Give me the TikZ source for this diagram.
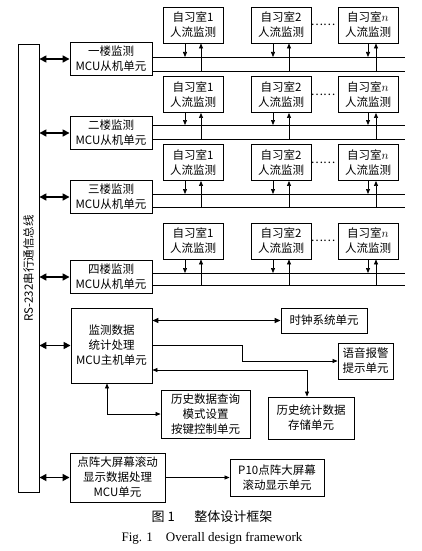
\documentclass[tikz,border=0pt]{standalone}
\usepackage{fontspec}
\setmainfont{Liberation Serif}
\newfontfamily\cjk{Noto Sans CJK SC}
\usetikzlibrary{arrows.meta}

\begin{document}
\begin{tikzpicture}[
  x=1pt,
  y=-1pt,
  every node/.style={font=\cjk\fontsize{11.5}{15}\selectfont, align=center, inner sep=0pt},
  box/.style={draw, line width=0.9pt},
  floorbox/.style={box, minimum width=82pt, minimum height=33pt},
  roombox/.style={box, minimum width=60pt, minimum height=36pt},
  busline/.style={line width=0.7pt},
  sig/.style={line width=0.7pt, -{Triangle[length=5pt, width=4pt]}},
  twoway/.style={line width=0.7pt,
                 {Triangle[length=5pt, width=4pt]}-{Triangle[length=5pt, width=4pt]}},
  heavy/.style={line width=1.3pt,
                {Triangle[length=6pt, width=5pt]}-{Triangle[length=6pt, width=5pt]}},
  link/.style={line width=1.6pt,
               {Triangle[length=7pt, width=7pt]}-{Triangle[length=7pt, width=7pt]}}
]
  % ---- page frame, 422 x 551 ------------------------------------------
  \useasboundingbox (0,0) rectangle (422,551);

  % ---- RS-232 bus --------------------------------------------------------
  \node[box, minimum width=21pt, minimum height=448pt] (bus) at (28.5,268.5) {};
  \node[rotate=90] (buslabel) at (bus.center) {RS-232串行通信总线};

  % ---- floor slaves ------------------------------------------------------
  \node[floorbox] (f1) at (111,59)  {一楼监测\\MCU从机单元};
  \node[floorbox] (f2) at (111,133) {二楼监测\\MCU从机单元};
  \node[floorbox] (f3) at (111,197) {三楼监测\\MCU从机单元};
  \node[floorbox] (f4) at (111,277) {四楼监测\\MCU从机单元};

  \draw[link] (bus.east |- f1) -- (f1.west);
  \draw[link] (bus.east |- f2) -- (f2.west);
  \draw[link] (bus.east |- f3) -- (f3.west);
  \draw[link] (bus.east |- f4) -- (f4.west);

  % ---- floor 1 rooms -----------------------------------------------------
  \node[roombox] (rm1a) at (193,25) {自习室1\\人流监测};
  \node[roombox] (rm1b) at (281,25) {自习室2\\人流监测};
  \node[roombox] (rm1n) at (368,25) {自习室$n$\\人流监测};
  \node (dots1) at (323,25) {……};
  \coordinate (u1) at (405,57);
  \coordinate (w1) at (405,71);
  \draw[busline] (f1.east |- u1) -- (u1);
  \draw[busline] (f1.east |- w1) -- (w1);
  \draw[sig] ([xshift=-8pt]rm1a.south) -- ([xshift=-8pt]rm1a.south |- u1);
  \draw[sig] ([xshift=8pt]rm1a.south |- w1) -- ([xshift=8pt]rm1a.south);
  \draw[sig] ([xshift=-8pt]rm1b.south) -- ([xshift=-8pt]rm1b.south |- u1);
  \draw[sig] ([xshift=8pt]rm1b.south |- w1) -- ([xshift=8pt]rm1b.south);
  \draw[sig] (rm1n.south) -- (rm1n.south |- u1);
  \draw[sig] ([xshift=8pt]rm1n.south |- w1) -- ([xshift=8pt]rm1n.south);

  % ---- floor 2 rooms -----------------------------------------------------
  \node[roombox] (rm2a) at (193,94.5) {自习室1\\人流监测};
  \node[roombox] (rm2b) at (281,94.5) {自习室2\\人流监测};
  \node[roombox] (rm2n) at (368,94.5) {自习室$n$\\人流监测};
  \node (dots2) at (323,94.5) {……};
  \coordinate (u2) at (405,125);
  \coordinate (w2) at (405,139);
  \draw[busline] (f2.east |- u2) -- (u2);
  \draw[busline] (f2.east |- w2) -- (w2);
  \draw[sig] ([xshift=-8pt]rm2a.south) -- ([xshift=-8pt]rm2a.south |- u2);
  \draw[sig] ([xshift=8pt]rm2a.south |- w2) -- ([xshift=8pt]rm2a.south);
  \draw[sig] ([xshift=-8pt]rm2b.south) -- ([xshift=-8pt]rm2b.south |- u2);
  \draw[sig] ([xshift=8pt]rm2b.south |- w2) -- ([xshift=8pt]rm2b.south);
  \draw[sig] (rm2n.south) -- (rm2n.south |- u2);
  \draw[sig] ([xshift=8pt]rm2n.south |- w2) -- ([xshift=8pt]rm2n.south);

  % ---- floor 3 rooms -----------------------------------------------------
  \node[roombox] (rm3a) at (193,162.5) {自习室1\\人流监测};
  \node[roombox] (rm3b) at (281,162.5) {自习室2\\人流监测};
  \node[roombox] (rm3n) at (368,162.5) {自习室$n$\\人流监测};
  \node (dots3) at (323,162.5) {……};
  \coordinate (u3) at (405,194);
  \coordinate (w3) at (405,207);
  \draw[busline] (f3.east |- u3) -- (u3);
  \draw[busline] (f3.east |- w3) -- (w3);
  \draw[sig] ([xshift=-8pt]rm3a.south) -- ([xshift=-8pt]rm3a.south |- u3);
  \draw[sig] ([xshift=8pt]rm3a.south |- w3) -- ([xshift=8pt]rm3a.south);
  \draw[sig] ([xshift=-8pt]rm3b.south) -- ([xshift=-8pt]rm3b.south |- u3);
  \draw[sig] ([xshift=8pt]rm3b.south |- w3) -- ([xshift=8pt]rm3b.south);
  \draw[sig] (rm3n.south) -- (rm3n.south |- u3);
  \draw[sig] ([xshift=8pt]rm3n.south |- w3) -- ([xshift=8pt]rm3n.south);

  % ---- floor 4 rooms -----------------------------------------------------
  \node[roombox] (rm4a) at (193,241) {自习室1\\人流监测};
  \node[roombox] (rm4b) at (281,241) {自习室2\\人流监测};
  \node[roombox] (rm4n) at (368,241) {自习室$n$\\人流监测};
  \node (dots4) at (323,241) {……};
  \coordinate (u4) at (405,273);
  \coordinate (w4) at (405,285);
  \draw[busline] (f4.east |- u4) -- (u4);
  \draw[busline] (f4.east |- w4) -- (w4);
  \draw[sig] ([xshift=-8pt]rm4a.south) -- ([xshift=-8pt]rm4a.south |- u4);
  \draw[sig] ([xshift=8pt]rm4a.south |- w4) -- ([xshift=8pt]rm4a.south);
  \draw[sig] ([xshift=-8pt]rm4b.south) -- ([xshift=-8pt]rm4b.south |- u4);
  \draw[sig] ([xshift=8pt]rm4b.south |- w4) -- ([xshift=8pt]rm4b.south);
  \draw[sig] (rm4n.south) -- (rm4n.south |- u4);
  \draw[sig] ([xshift=8pt]rm4n.south |- w4) -- ([xshift=8pt]rm4n.south);

  % ---- host unit and its peripherals -------------------------------------
  \node[box, minimum width=81pt, minimum height=75pt] (host) at (111.5,345.5)
    {监测数据\\统计处理\\MCU主机单元};
  \node[box, minimum width=86pt, minimum height=25pt] (clock) at (324,320.5)
    {时钟系统单元};
  \node[box, minimum width=55pt, minimum height=36pt] (voice) at (365.5,361)
    {语音报警\\提示单元};
  \node[box, minimum width=86pt, minimum height=42pt] (store) at (311,418)
    {历史统计数据\\存储单元};
  \node[box, minimum width=89pt, minimum height=48pt] (query) at (205.5,414)
    {历史数据查询\\模式设置\\按键控制单元};
  \coordinate (bend) at (242,361);
  \coordinate (tap) at (307,370);

  \draw[link] (bus.east |- host) -- (host.west);
  \draw[heavy] (host.east |- clock) -- (clock.west);
  \draw[sig] (host.east) -| (bend) -- (voice.west);
  \draw[twoway] (host.east |- tap) -| (store.north -| tap);
  \draw[twoway] ([xshift=-4.5pt]host.south) |- (query.west);

  % ---- LED screen branch -------------------------------------------------
  \node[box, minimum width=95pt, minimum height=49pt] (disp) at (117.5,477.5)
    {点阵大屏幕滚动\\显示数据处理\\MCU单元};
  \node[box, minimum width=94pt, minimum height=37pt] (p10) at (277,477.5)
    {P10点阵大屏幕\\滚动显示单元};
  \draw[link] (bus.east |- disp) -- (disp.west);
  \draw[sig] (disp.east) -- (p10.west);

  % ---- caption -----------------------------------------------------------
  \node[font=\cjk\fontsize{13}{15}\selectfont] (cap) at (212,517)
    {图 1\hspace{1.5em}整体设计框架};
  \node[font=\fontsize{13}{15}\selectfont] (capen) at (212,538)
    {Fig. 1\hspace{1em}Overall design framework};

\end{tikzpicture}
\end{document}
